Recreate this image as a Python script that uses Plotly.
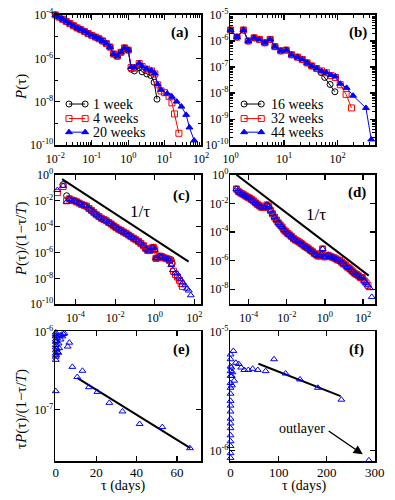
import plotly.graph_objects as go

FONT = "Liberation Serif"
W, H = 395, 500

# ---------------- data (log10 values) ----------------
# (a) P(tau), 1 / 4 / 20 weeks
A_LX_COMMON = [-2.0, -1.9, -1.8, -1.7, -1.6, -1.5, -1.4, -1.3, -1.2, -1.1, -1.0, -0.9, -0.8, -0.7, -0.6, -0.5, -0.4, -0.3, -0.2, -0.1, 0.0]
A_LY_COMMON = [-4.0, -4.1, -4.2, -4.3, -4.4, -4.5, -4.6, -4.68, -4.76, -4.86, -4.94, -5.02, -5.1, -5.2, -5.32, -5.48, -5.8, -5.9, -5.72, -5.52, -5.62]
A1_TAIL_LX = [0.08, 0.17, 0.3, 0.38, 0.51, 0.62, 0.71, 0.79]
A1_TAIL_LY = [-6.5, -6.58, -6.44, -6.62, -6.72, -6.79, -7.1, -7.88]
A4_TAIL_LX = [0.08, 0.17, 0.3, 0.38, 0.51, 0.64, 0.73, 0.81, 0.9, 1.0, 1.12, 1.2, 1.27, 1.39]
A4_TAIL_LY = [-6.42, -6.45, -6.24, -6.38, -6.5, -6.58, -6.72, -7.22, -7.5, -7.58, -7.75, -8.05, -8.56, -9.45]
A20_TAIL_LX = [0.08, 0.17, 0.3, 0.38, 0.51, 0.64, 0.73, 0.81, 0.9, 1.07, 1.2, 1.33, 1.46, 1.59, 1.68, 1.81]
A20_TAIL_LY = [-6.4, -6.42, -6.22, -6.36, -6.48, -6.56, -6.7, -7.2, -7.45, -7.62, -7.77, -7.99, -8.22, -8.6, -9.18, -9.78]
A_NAMES = ["1 week", "4 weeks", "20 weeks"]

# (b) P(tau), 16 / 32 / 44 weeks
B_LX_COMMON = [0.0, 0.12, 0.24, 0.33, 0.44, 0.54, 0.64, 0.74, 0.83, 0.94, 1.04, 1.14, 1.25, 1.34, 1.43, 1.52, 1.61]
B_LY_COMMON = [-5.58, -5.85, -5.58, -6.0, -5.88, -5.94, -6.07, -5.94, -6.22, -6.38, -6.35, -6.53, -6.62, -6.71, -6.84, -6.96, -7.06]
B16_TAIL_LX = [1.69, 1.76, 1.86, 1.95]
B16_TAIL_LY = [-7.21, -7.4, -7.67, -7.95]
B32_TAIL_LX = [1.70, 1.79, 1.88, 1.96, 2.05, 2.16, 2.26]
B32_TAIL_LY = [-7.15, -7.22, -7.33, -7.40, -7.68, -8.05, -8.57]
B44_TAIL_LX = [1.70, 1.79, 1.88, 1.96, 2.05, 2.17, 2.29, 2.53, 2.63]
B44_TAIL_LY = [-7.15, -7.21, -7.31, -7.36, -7.64, -7.80, -8.1, -8.57, -9.78]
B_NAMES = ["16 weeks", "32 weeks", "44 weeks"]

# (c) P(tau)/(1-tau/T), 1 / 4 / 20 weeks
C_LX_MID = [-4.32, -4.2, -4.07, -3.95, -3.82, -3.7, -3.57, -3.45, -3.32, -3.2, -3.07, -2.95, -2.82, -2.7, -2.57,
            -2.45, -2.32, -2.2, -2.07, -1.95, -1.82, -1.7, -1.57, -1.45, -1.32, -1.2, -1.07, -0.95, -0.82, -0.7,
            -0.57, -0.45, -0.35, -0.25, -0.15, -0.07, 0.0, 0.06, 0.15, 0.25, 0.35, 0.45, 0.55, 0.65, 0.75]
C_LY_MID = [-1.85, -1.95, -2.0, -2.08, -2.18, -2.28, -2.35, -2.42, -2.6, -2.75, -2.92, -3.08, -3.22, -3.35, -3.45,
            -3.55, -3.68, -3.8, -3.95, -4.08, -4.2, -4.3, -4.42, -4.52, -4.65, -4.78, -4.9, -5.02, -5.15, -5.3,
            -5.48, -5.7, -5.85, -5.85, -5.65, -5.6, -5.8, -6.45, -6.42, -6.28, -6.32, -6.4, -6.45, -6.5, -6.62]
C1_HEAD_LX, C1_HEAD_LY = [-4.63, -4.45], [-0.75, -1.61]
C4_HEAD_LX, C4_HEAD_LY = [-4.92, -4.63, -4.45], [-1.37, -0.9, -2.0]
C20_HEAD_LX, C20_HEAD_LY = [-4.92, -4.63, -4.45], [-1.17, -0.85, -2.08]
C1_TAIL_LX, C1_TAIL_LY = [0.82, 0.88], [-6.55, -6.85]
C4_TAIL_LX = [0.85, 0.95, 1.05, 1.15, 1.25, 1.33, 1.4]
C4_TAIL_LY = [-6.8, -7.45, -7.7, -7.9, -8.15, -8.4, -8.62]
C20_TAIL_LX = [0.83, 0.91, 1.03, 1.12, 1.21, 1.31, 1.42, 1.52, 1.62, 1.72, 1.82]
C20_TAIL_LY = [-6.97, -7.36, -7.61, -7.62, -7.92, -8.08, -8.33, -8.54, -8.8, -8.94, -9.31]

# (d) P(tau)/(1-tau/T), 16 / 32 / 44 weeks
D_HEAD_LX, D_HEAD_LY = [-4.98], [-0.29]
D_LX_MID = [-4.65, -4.55, -4.45, -4.35, -4.25, -4.15, -4.05, -3.95, -3.85, -3.75, -3.65, -3.55, -3.45, -3.35, -3.25,
            -3.15, -3.05, -2.95, -2.85, -2.75, -2.65, -2.55, -2.45, -2.35, -2.25, -2.15, -2.05, -1.95, -1.85, -1.75,
            -1.65, -1.55, -1.45, -1.35, -1.25, -1.15, -1.05, -0.95, -0.85, -0.75, -0.65, -0.55, -0.45, -0.35, -0.25,
            -0.18, -0.12, -0.03, 0.07, 0.17, 0.27, 0.37, 0.47, 0.57, 0.67, 0.77, 0.87, 0.97, 1.07, 1.17,
            1.27, 1.37, 1.47, 1.57, 1.67, 1.77, 1.87, 1.96, 2.06]
D_LY_MID = [-0.98, -1.15, -1.25, -1.32, -1.4, -1.48, -1.56, -1.62, -1.72, -1.82, -1.95, -2.05, -2.15, -2.25, -2.28,
            -2.28, -2.1, -2.2, -2.5, -2.72, -2.95, -3.15, -3.35, -3.5, -3.65, -3.85, -3.97, -4.1, -4.2, -4.32,
            -4.45, -4.55, -4.62, -4.7, -4.8, -4.9, -5.0, -5.08, -5.18, -5.28, -5.38, -5.5, -5.6, -5.68, -5.65,
            -5.5, -5.18, -5.73, -5.72, -5.62, -5.7, -5.75, -5.8, -5.87, -5.95, -5.98, -6.1, -6.22, -6.3, -6.45,
            -6.52, -6.65, -6.78, -6.89, -6.97, -7.07, -7.19, -7.19, -7.41]
D32_TAIL_LX, D32_TAIL_LY = [2.16, 2.26], [-7.56, -7.73]
D44_TAIL_LX, D44_TAIL_LY = [2.16, 2.26, 2.36, 2.46], [-7.56, -7.73, -7.93, -8.54]

# (e) tau P/(1-tau/T) vs tau (days), 20 weeks
E_T = [0.0, 0.0, 0.0, 0.0, 0.0, 0.0, 0.0, 0.0, 0.0, 0.0, 0.0, 0.0, 0.1, 0.2, 0.3, 0.5, 0.7, 1.0, 1.2, 1.4, 1.7,
       2.0, 2.4, 2.8, 3.3, 3.8, 4.3, 5.9, 6.7, 8.2, 10.6, 13.2, 16.4, 20.6, 26.5, 33.0, 41.5, 52.7, 66.4]
E_LY = [-6.76, -6.01, -6.03, -6.06, -6.1, -6.13, -6.17, -6.2, -6.24, -6.28, -6.32, -6.36, -6.05, -6.3, -6.12,
        -6.22, -6.08, -6.26, -6.27, -6.15, -6.21, -6.05, -6.1, -6.04, -6.06, -6.03, -6.02, -6.19, -6.14, -6.45,
        -6.58, -6.5, -6.71, -6.77, -6.91, -7.02, -7.18, -7.22, -7.49]
E_FIT_T, E_FIT_LY = [10.6, 66.6], [-6.59, -7.49]

# (f) tau P/(1-tau/T) vs tau (days), 44 weeks
F_T = [0.0, 0.0, 0.0, 0.0, 0.0, 0.0, 0.0, 0.0, 0.0, 0.0, 0.0, 0.0, 0.0, 0.0, 0.0, 0.0, 0.0, 0.0, 0.0,
       1.5, 2.5, 3.0, 4.0, 7.5, 5.9, 11.0, 17.0, 22.0, 28.6, 37.0, 46.0, 56.6, 73.0, 90.5, 114.6, 144.5,
       181.6, 230.5, 287.7]
F_LY = [-5.19, -5.23, -5.29, -5.33, -5.37, -5.43, -5.47, -5.52, -5.58, -5.62, -5.67, -5.73, -5.77, -5.81, -5.87,
        -5.92, -5.96, -6.02, -6.06, -5.30, -5.37, -5.45, -5.34, -5.41, -5.16, -5.26, -5.27, -5.30, -5.32, -5.32,
        -5.31, -5.32, -5.33, -5.23, -5.35, -5.40, -5.47, -5.57, -6.08]
F_FIT_T, F_FIT_LY = [58.0, 229.0], [-5.268, -5.54]

# 1/tau guide lines
C_GUIDE_LX, C_GUIDE_LY = [-4.68, 1.71], [-0.32, -6.71]
D_GUIDE_LX, D_GUIDE_LY = [-4.65, 2.3], [0.02, -7.05]

# tick exponents / values
A_XT = [-2, -1, 0, 1, 2]
A_YT = [-10, -8, -6, -4]
B_XT = [0, 1, 2]
B_YT = [-10, -9, -8, -7, -6, -5]
C_XT = [-4, -2, 0, 2]
C_YT = [-10, -8, -6, -4, -2, 0]
D_XT = [-4, -2, 0, 2]
D_YT = [-8, -6, -4, -2, 0]
E_XT = [0, 20, 40, 60]
E_YT = [-7, -6]
F_XT = [0, 100, 200, 300]
F_YT = [-6, -5]


def sup(e):
    return "10<sup>%d</sup>" % e


P = lambda l: [10 ** v for v in l]

BLACK, RED, BLUE = "#000000", "#ff0000", "#0000ff"
STYLES = [(BLACK, "circle-open"), (RED, "square-open"), (BLUE, "triangle-up")]

fig = go.Figure()


def line_trace(lx, ly, xa, ya, color, symbol):
    return go.Scatter(x=P(lx), y=P(ly), xaxis=xa, yaxis=ya, mode="lines+markers", showlegend=False,
                      line=dict(color=color, width=1),
                      marker=dict(symbol=symbol, size=6, color=color, line=dict(color=color, width=1)),
                      cliponaxis=False)


def pts_trace(lx, ly, xa, ya, color, symbol, log_x=True):
    return go.Scatter(x=P(lx) if log_x else lx, y=P(ly), xaxis=xa, yaxis=ya, mode="markers", showlegend=False,
                      marker=dict(symbol=symbol, size=6, color=color, line=dict(color=color, width=1)),
                      cliponaxis=False)


# (a)
fig.add_trace(line_trace(A_LX_COMMON + A1_TAIL_LX, A_LY_COMMON + A1_TAIL_LY, "x", "y", BLACK, "circle-open"))
fig.add_trace(line_trace(A_LX_COMMON + A4_TAIL_LX, A_LY_COMMON + A4_TAIL_LY, "x", "y", RED, "square-open"))
fig.add_trace(line_trace(A_LX_COMMON + A20_TAIL_LX, A_LY_COMMON + A20_TAIL_LY, "x", "y", BLUE, "triangle-up"))
# (b)
fig.add_trace(line_trace(B_LX_COMMON + B16_TAIL_LX, B_LY_COMMON + B16_TAIL_LY, "x2", "y2", BLACK, "circle-open"))
fig.add_trace(line_trace(B_LX_COMMON + B32_TAIL_LX, B_LY_COMMON + B32_TAIL_LY, "x2", "y2", RED, "square-open"))
fig.add_trace(line_trace(B_LX_COMMON + B44_TAIL_LX, B_LY_COMMON + B44_TAIL_LY, "x2", "y2", BLUE, "triangle-up"))
# (c)
fig.add_trace(go.Scatter(x=P(C_GUIDE_LX), y=P(C_GUIDE_LY), xaxis="x3", yaxis="y3", mode="lines", showlegend=False,
                         line=dict(color="black", width=2)))
fig.add_trace(pts_trace(C1_HEAD_LX + C_LX_MID + C1_TAIL_LX, C1_HEAD_LY + C_LY_MID + C1_TAIL_LY, "x3", "y3", BLACK, "circle-open"))
fig.add_trace(pts_trace(C4_HEAD_LX + C_LX_MID + C4_TAIL_LX, C4_HEAD_LY + C_LY_MID + C4_TAIL_LY, "x3", "y3", RED, "square-open"))
fig.add_trace(pts_trace(C20_HEAD_LX + C_LX_MID + C20_TAIL_LX, C20_HEAD_LY + C_LY_MID + C20_TAIL_LY, "x3", "y3", BLUE, "triangle-up-open"))
# (d)
fig.add_trace(go.Scatter(x=P(D_GUIDE_LX), y=P(D_GUIDE_LY), xaxis="x4", yaxis="y4", mode="lines", showlegend=False,
                         line=dict(color="black", width=2)))
fig.add_trace(pts_trace(D_HEAD_LX + D_LX_MID, D_HEAD_LY + D_LY_MID, "x4", "y4", BLACK, "circle-open"))
fig.add_trace(pts_trace(D_HEAD_LX + D_LX_MID + D32_TAIL_LX, D_HEAD_LY + D_LY_MID + D32_TAIL_LY, "x4", "y4", RED, "square-open"))
fig.add_trace(pts_trace(D_HEAD_LX + D_LX_MID + D44_TAIL_LX, D_HEAD_LY + D_LY_MID + D44_TAIL_LY, "x4", "y4", BLUE, "triangle-up-open"))
# (e)
fig.add_trace(go.Scatter(x=E_FIT_T, y=P(E_FIT_LY), xaxis="x5", yaxis="y5", mode="lines", showlegend=False,
                         line=dict(color="black", width=2)))
fig.add_trace(pts_trace(E_T, E_LY, "x5", "y5", BLUE, "triangle-up-open", log_x=False))
# (f)
fig.add_trace(go.Scatter(x=F_FIT_T, y=P(F_FIT_LY), xaxis="x6", yaxis="y6", mode="lines", showlegend=False,
                         line=dict(color="black", width=2)))
fig.add_trace(pts_trace(F_T, F_LY, "x6", "y6", BLUE, "triangle-up-open", log_x=False))

# ---------------- legend keys (xmgrace style: line with a marker at each end), pixel layout ----------------
LEG_ROWS_Y = [99, 114, 128]
LEG_A_X = [63, 80]
LEG_B_X = [247, 265]
for (color, symbol), yrow in zip(STYLES, LEG_ROWS_Y):
    for lx in (LEG_A_X, LEG_B_X):
        fig.add_trace(go.Scatter(x=lx, y=[yrow, yrow], xaxis="x7", yaxis="y7", mode="lines+markers",
                                 showlegend=False, cliponaxis=False, hoverinfo="skip",
                                 line=dict(color=color, width=1),
                                 marker=dict(symbol=symbol, size=6, color=color, line=dict(color=color, width=1))))

# ---------------- axes ----------------
LCOL = [48.5 / W, 202.0 / W]
RCOL = [232.5 / W, 384.5 / W]
ROW1 = [1 - 141.7 / H, 1 - 7.0 / H]
ROW2 = [1 - 305.5 / H, 1 - 172.0 / H]
ROW3 = [1 - 467.5 / H, 1 - 333.3 / H]


def axis(domain, anchor, rng, log, tv, minor=None, standoff=0):
    if log:
        vals = [10 ** e for e in tv]
        text = [sup(e) for e in tv]
        size = 12
    else:
        vals = tv
        text = [str(v) for v in tv]
        size = 13
    d = dict(domain=domain, anchor=anchor, range=rng, type="log" if log else "linear",
             tickmode="array", tickvals=vals, ticktext=text,
             showline=True, linecolor="black", linewidth=1.5, mirror="ticks",
             ticks="inside", ticklen=5, tickwidth=1.2, tickcolor="black",
             showgrid=False, zeroline=False, ticklabelstandoff=standoff,
             tickfont=dict(family=FONT, size=size, color="black"))
    if minor is not None:
        d["minor"] = dict(tickmode="array", tickvals=minor, ticks="inside", ticklen=3, tickwidth=1,
                          tickcolor="black", showgrid=False)
    return d


def decade_minors(e0, e1):
    return [m * 10.0 ** e for e in range(e0, e1) for m in range(2, 10)]


XS, YS = 2, -2
fig.update_layout(
    xaxis=axis(LCOL, "y", [-2.005, 2.005], True, A_XT, decade_minors(-2, 2), XS),
    yaxis=axis(ROW1, "x", [-10.01, -3.995], True, A_YT, [1e-9, 1e-7, 1e-5], YS),
    xaxis2=axis(RCOL, "y2", [-0.005, 2.7], True, B_XT, decade_minors(0, 3), XS),
    yaxis2=axis(ROW1, "x2", [-10.01, -4.995], True, B_YT, decade_minors(-10, -5), YS),
    xaxis3=axis(LCOL, "y3", [-5.03, 2.35], True, C_XT, None, XS),
    yaxis3=axis(ROW2, "x3", [-10.01, 0.005], True, C_YT, None, YS),
    xaxis4=axis(RCOL, "y4", [-4.97, 2.63], True, D_XT, None, XS),
    yaxis4=axis(ROW2, "x4", [-9.06, 0.01], True, D_YT, None, YS),
    xaxis5=axis(LCOL, "y5", [-0.3, 72], False, E_XT, None, -2),
    yaxis5=axis(ROW3, "x5", [-7.66, -5.995], True, E_YT, None, YS),
    xaxis6=axis(RCOL, "y6", [-0.5, 300.5], False, F_XT, None, -2),
    yaxis6=axis(ROW3, "x6", [-6.09, -4.995], True, F_YT, None, YS),
    xaxis7=dict(domain=[0, 1], anchor="y7", range=[0, W], visible=False, fixedrange=True),
    yaxis7=dict(domain=[0, 1], anchor="x7", range=[H, 0], visible=False, fixedrange=True),
)


def ann(text, xp, yp, size=15, angle=0, bold=False, xanchor="center"):
    return dict(text=("<b>%s</b>" % text) if bold else text, x=xp / W, y=1 - yp / H, xref="paper", yref="paper",
                showarrow=False, textangle=angle, xanchor=xanchor, yanchor="middle",
                font=dict(family=FONT, size=size, color="black"))


annotations = [
    ann("<i>P</i>(τ)", 13, 81, 15, -90),
    ann("<i>P</i>(τ)/(1−τ/<i>T</i>)", 13, 238, 15, -90),
    ann("τ<i>P</i>(τ)/(1−τ/<i>T</i>)", 13, 413, 15, -90),
    ann("τ (days)", 120, 492.5, 14),
    ann("τ (days)", 310, 492.5, 14),
    ann("(a)", 180, 25, 15, bold=True),
    ann("(b)", 367, 25, 15, bold=True),
    ann("(c)", 181, 193, 15, bold=True),
    ann("(d)", 366, 190, 15, bold=True),
    ann("(e)", 181, 352, 15, bold=True),
    ann("(f)", 365, 352, 15, bold=True),
    ann("1/τ", 138, 210, 17),
    ann("1/τ", 322, 213, 17),
    ann("outlayer", 308, 433, 14),
    dict(text="", x=275, y=-6.03, ax=201, ay=-5.825, xref="x6", yref="y6", axref="x6", ayref="y6",
         showarrow=True, arrowhead=2, arrowsize=1.3, arrowwidth=1.4, arrowcolor="black"),
]
for name, yrow in zip(A_NAMES, LEG_ROWS_Y):
    annotations.append(ann(name, 86, yrow, 14, xanchor="left"))
for name, yrow in zip(B_NAMES, LEG_ROWS_Y):
    annotations.append(ann(name, 273, yrow, 14, xanchor="left"))
fig.update_layout(annotations=annotations)

fig.update_layout(width=W, height=H, autosize=False, margin=dict(l=0, r=0, t=0, b=0),
                  paper_bgcolor="white", plot_bgcolor="rgba(0,0,0,0)", showlegend=False,
                  font=dict(family=FONT, color="black"))

# remove the browser's default 8px body margin so the figure sits at the window origin
fig.write_html("out.html", config={"displayModeBar": False, "staticPlot": True},
               post_script="document.body.style.margin='0';")
